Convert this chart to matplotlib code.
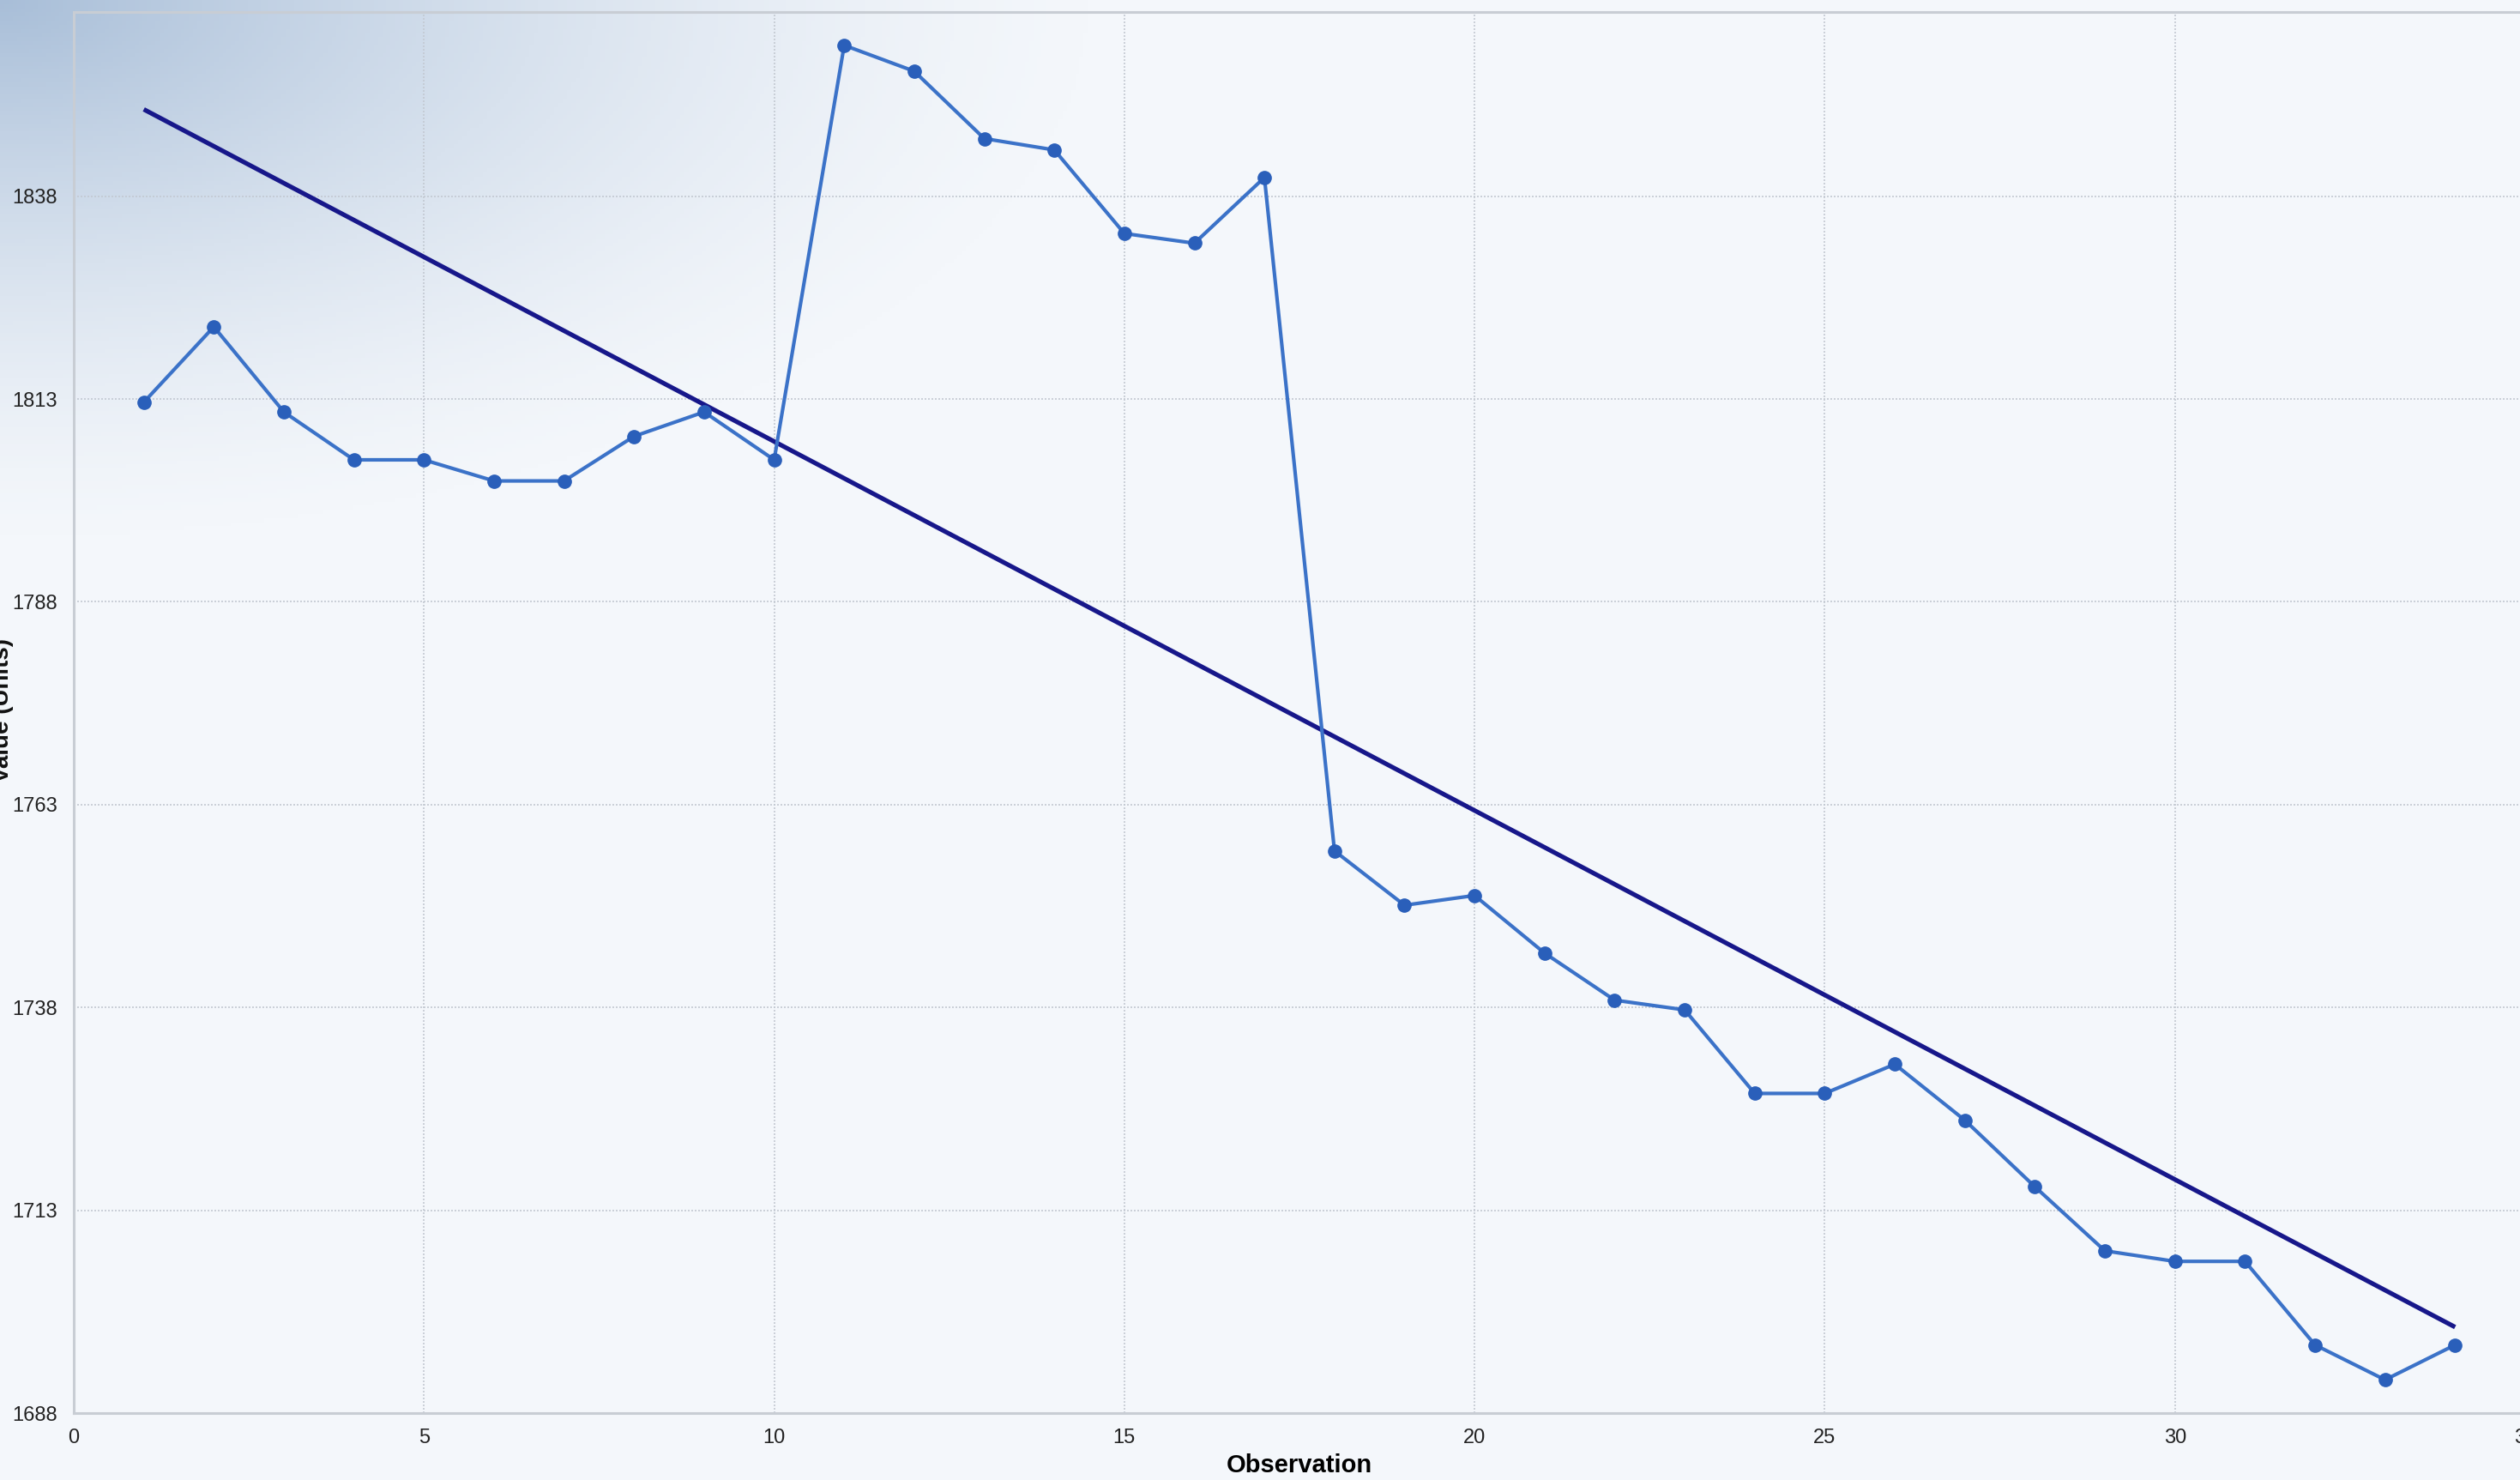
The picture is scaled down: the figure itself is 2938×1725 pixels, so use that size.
import numpy as np
import matplotlib
matplotlib.use("Agg")
import matplotlib.pyplot as plt

# values
observation = list(range(1, 35))
values = [1812.6, 1821.9, 1811.4, 1805.5, 1805.5, 1802.9, 1802.9, 1808.4, 1811.4, 1805.5,
          1856.6, 1853.4, 1845.1, 1843.7, 1833.4, 1832.2, 1840.3, 1757.3, 1750.6, 1751.8,
          1744.7, 1738.9, 1737.7, 1727.4, 1727.4, 1731.0, 1724.1, 1715.9, 1708.0, 1706.7,
          1706.7, 1696.4, 1692.1, 1696.4]
trend_x = [1, 34]
trend_y = [1848.7, 1698.6]
y_ticks = [1688, 1713, 1738, 1763, 1788, 1813, 1838]
x_ticks = [0, 5, 10, 15, 20, 25, 30, 35]

plt.rcParams['font.family'] = ['Liberation Sans', 'DejaVu Sans']

W, H = 2938, 1725
fig = plt.figure(figsize=(W / 100, H / 100), dpi=100)
fig.patch.set_facecolor('#f4f7fb')

# background with the blue glow in the top left corner
bg = fig.add_axes([0, 0, 1, 1], zorder=0)
bg.set_axis_off()
gx, gy = np.meshgrid(np.linspace(0, W, 600), np.linspace(0, H, 360))
r = np.sqrt((gx / 1300.0) ** 2 + (gy / 640.0) ** 2)
alpha = np.clip(1 - r, 0, 1) ** 1.5
img = np.zeros(gx.shape + (4,))
img[..., 0] = 168 / 255
img[..., 1] = 190 / 255
img[..., 2] = 216 / 255
img[..., 3] = alpha
bg.imshow(img, extent=[0, 1, 0, 1], aspect='auto', origin='upper')
bg.set_xlim(0, 1)
bg.set_ylim(0, 1)

left = 86 / W
bottom = (H - 1647) / H
right = 2944 / W
top = (H - 14) / H
ax = fig.add_axes([left, bottom, right - left, top - bottom], zorder=1)
ax.patch.set_alpha(0)

ax.plot(trend_x, trend_y, color='#17178a', lw=3.8, zorder=3, solid_capstyle='butt')
ax.plot(observation, values, color='#3b72c8', lw=3.0, marker='o', markersize=11,
        markerfacecolor='#2a5fba', markeredgecolor='#2a5fba', zorder=4)

ax.set_xlim(0, 35)
ax.set_ylim(1688, 1860.7)
ax.set_xticks(x_ticks)
ax.set_yticks(y_ticks)
ax.tick_params(length=0, labelsize=17, colors='#222222')
ax.tick_params(axis='x', pad=13)
ax.tick_params(axis='y', pad=14)
ax.grid(True, color='#c3c9d2', ls=(0, (1.2, 1.2)), lw=1.2)

for side in ['left', 'bottom', 'top']:
    ax.spines[side].set_color('#c8cdd4')
    ax.spines[side].set_linewidth(2.2)
ax.spines['right'].set_visible(False)

ax.set_xlabel('Observation', fontsize=21, fontweight='bold', labelpad=5)
fig.text(3 / W, 0.52, 'Value (Units)', rotation=90, ha='center', va='center',
         fontsize=20, fontweight='bold', color='#111111')

fig.savefig('out.png', dpi=100, facecolor=fig.get_facecolor())
